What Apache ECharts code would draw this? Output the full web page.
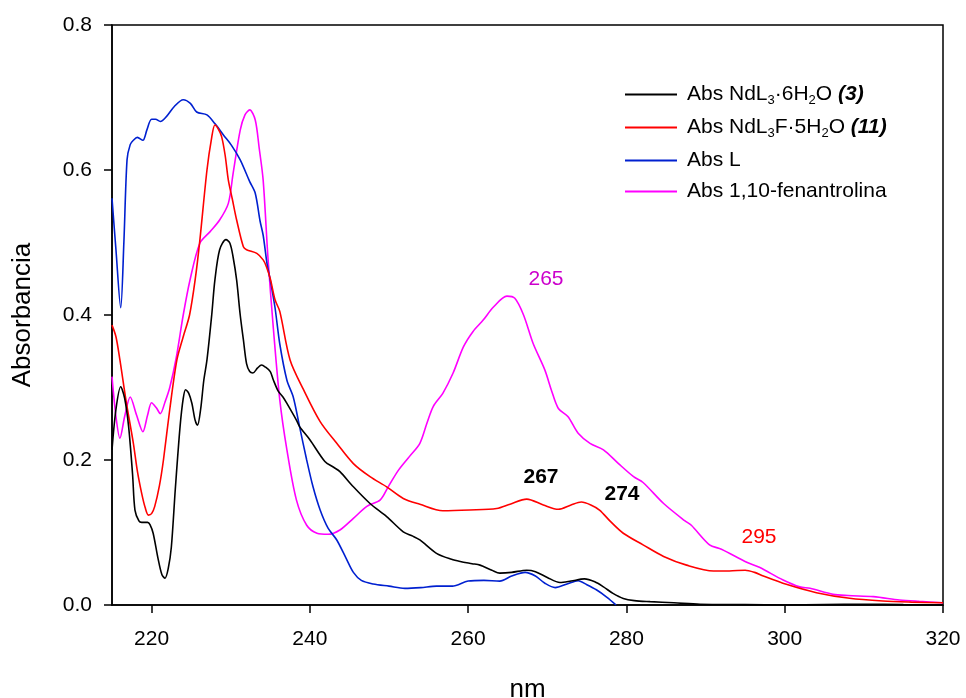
<!DOCTYPE html>
<html>
<head>
<meta charset="utf-8">
<script src="https://cdn.jsdelivr.net/npm/echarts@6/dist/echarts.min.js"></script>
<style>html,body{margin:0;padding:0;background:#fff}#c{width:966px;height:698px}</style>
</head>
<body>
<div id="c"></div>
<script>
// ---- data ----
const xTicks = [220, 240, 260, 280, 300, 320];
const yTicks = [0, 0.2, 0.4, 0.6, 0.8];

const blackNm  = [215.0,215.5,216.1,216.6,217.1,217.6,217.9,218.4,218.75,219.5,219.8,220.2,220.8,221.3,221.7,222.1,222.5,223.0,223.6,224.0,224.3,224.7,225.1,225.5,225.8,226.2,226.6,227.0,227.6,228.0,228.6,229.4,229.9,230.3,230.75,231.2,231.6,232.0,232.4,232.8,233.4,233.9,234.4,235.0,235.4,236.0,236.6,237.1,238.3,238.7,240.0,241.9,243.0,243.8,245.5,247.6,249.7,251.8,253.0,253.9,256.0,257.9,259.0,260.5,261.5,263.0,264.0,265.5,267.4,268.5,270.0,271.6,273.0,274.7,276.0,277.1,278.3,279.6,281.0,283.0,286.0,289.3,295,300,305,310,315,320];
const blackAbs = [0.214,0.27,0.301,0.285,0.246,0.18,0.131,0.116,0.114,0.114,0.111,0.099,0.065,0.042,0.037,0.05,0.080,0.16,0.246,0.285,0.297,0.292,0.278,0.255,0.248,0.27,0.31,0.338,0.40,0.448,0.49,0.504,0.499,0.48,0.448,0.40,0.366,0.333,0.322,0.320,0.327,0.331,0.328,0.322,0.31,0.295,0.287,0.278,0.255,0.246,0.228,0.198,0.19,0.184,0.163,0.140,0.122,0.101,0.095,0.0897,0.0713,0.063,0.060,0.057,0.055,0.048,0.044,0.045,0.048,0.046,0.038,0.031,0.033,0.036,0.032,0.025,0.016,0.009,0.006,0.0046,0.003,0.001,0.0005,0.0,0.0005,0.001,0.0005,0.0];

const redNm  = [215.0,215.5,216.0,216.8,217.7,218.2,218.75,219.2,219.6,220.0,220.4,221.0,221.5,222.3,223.2,224.0,224.8,225.5,226.1,227.0,227.6,228.0,228.4,228.85,229.3,229.7,230.2,230.75,231.6,232.0,233.3,234.1,234.5,235.0,235.6,236.2,237.5,239.2,241.3,243.4,245.5,247.6,249.7,251.8,253.9,256.8,260.2,263.6,265.3,267.4,269.5,271.4,273.0,274.3,275.5,276.6,278.0,279.6,282.1,284.7,287.6,291.0,293.0,295.0,296.2,297.3,300.2,304.0,308.2,312.4,316,320];
const redAbs = [0.386,0.37,0.338,0.28,0.223,0.185,0.154,0.134,0.124,0.126,0.136,0.165,0.20,0.27,0.338,0.37,0.40,0.448,0.503,0.60,0.645,0.662,0.657,0.646,0.62,0.586,0.56,0.531,0.494,0.49,0.485,0.476,0.467,0.45,0.421,0.405,0.338,0.297,0.253,0.223,0.195,0.177,0.163,0.147,0.139,0.130,0.131,0.133,0.139,0.146,0.138,0.132,0.138,0.142,0.138,0.131,0.115,0.099,0.083,0.067,0.055,0.047,0.047,0.048,0.045,0.040,0.0285,0.017,0.0092,0.0055,0.004,0.003];

const blueNm  = [215.0,215.5,216.1,216.5,216.9,217.3,217.7,218.2,218.9,219.4,220.0,220.5,221.1,221.9,222.9,224.0,224.9,225.7,227.0,228.0,229.1,230.1,231.2,232.4,233.1,233.7,234.1,234.6,235.0,235.6,236.2,237.1,237.9,238.7,239.6,240.4,241.3,242.3,243.4,244.6,245.5,246.5,248.0,250.0,252.0,254.0,256.0,258.0,260.0,262.0,264.0,265.5,267.2,268.5,269.7,271.0,272.5,273.9,275.0,276.2,277.5,278.7];
const blueAbs = [0.561,0.49,0.41,0.50,0.614,0.635,0.641,0.645,0.641,0.655,0.67,0.670,0.667,0.674,0.688,0.697,0.692,0.680,0.676,0.664,0.648,0.634,0.614,0.584,0.568,0.53,0.51,0.47,0.448,0.41,0.36,0.310,0.287,0.246,0.2,0.163,0.131,0.106,0.0897,0.064,0.045,0.034,0.029,0.026,0.023,0.024,0.026,0.026,0.033,0.034,0.033,0.040,0.045,0.040,0.030,0.024,0.029,0.0335,0.028,0.021,0.011,0.0];

const phenNm  = [215.0,215.5,216.0,216.6,217.3,218.1,218.9,219.5,220.0,220.6,221.1,221.7,222.3,223.1,224.0,224.85,226.1,227.4,228.6,229.7,230.3,231.2,231.8,232.4,233.1,233.6,234.1,234.7,235.4,236.2,237.1,238.3,239.6,240.9,242.3,243.8,245.5,247.2,248.9,249.9,251.2,252.6,253.9,254.8,255.6,256.8,258.1,259.4,260.6,261.9,263.2,264.9,265.9,267.0,268.2,269.7,270.5,271.4,272.6,273.9,275.4,277.1,279.0,280.9,282.1,284.7,287.4,288.2,290.5,292.0,295.2,296.8,299.8,301.9,303.2,306.1,308,311.2,314.5,317,320];
const phenAbs = [0.315,0.26,0.23,0.26,0.287,0.262,0.239,0.262,0.279,0.272,0.264,0.28,0.30,0.34,0.40,0.448,0.499,0.515,0.531,0.554,0.595,0.655,0.676,0.683,0.669,0.63,0.586,0.48,0.38,0.283,0.214,0.145,0.110,0.099,0.0975,0.1035,0.1195,0.136,0.145,0.163,0.186,0.205,0.223,0.251,0.274,0.292,0.320,0.356,0.377,0.393,0.411,0.426,0.423,0.40,0.361,0.324,0.297,0.271,0.260,0.237,0.223,0.214,0.195,0.177,0.169,0.140,0.116,0.110,0.083,0.077,0.059,0.052,0.0345,0.025,0.023,0.0147,0.013,0.0115,0.007,0.005,0.003];

const seriesNames = ['Abs NdL3·6H2O (3)', 'Abs NdL3F·5H2O (11)', 'Abs L', 'Abs 1,10-fenantrolina'];
const seriesColors = ['#000000', '#ff0000', '#0020d0', '#ff00ff'];
const legendRich = {
  'Abs NdL3·6H2O (3)': '{n|Abs NdL}{s|3}{n|·6H}{s|2}{n|O }{b|(3)}',
  'Abs NdL3F·5H2O (11)': '{n|Abs NdL}{s|3}{n|F·5H}{s|2}{n|O }{b|(11)}',
  'Abs L': '{n|Abs L}',
  'Abs 1,10-fenantrolina': '{n|Abs 1,10-fenantrolina}'
};
const notes = [
  {text: '265', x: 546, y: 279, color: '#cc00cc', bold: false},
  {text: '267', x: 541, y: 477, color: '#000000', bold: true},
  {text: '274', x: 622, y: 494, color: '#000000', bold: true},
  {text: '295', x: 759, y: 537, color: '#ff0000', bold: false}
];

// ---- chart ----
const FONT = '"Liberation Sans", Arial, Helvetica, sans-serif';
const zip = (a, b) => a.map((v, i) => [v, b[i]]);
const allData = [zip(blackNm, blackAbs), zip(redNm, redAbs), zip(blueNm, blueAbs), zip(phenNm, phenAbs)];

const chart = echarts.init(document.getElementById('c'), null, {renderer: 'canvas'});
const option = {
  backgroundColor: '#ffffff',
  animation: false,
  textStyle: {fontFamily: FONT},
  grid: {left: 112, right: 23, top: 25, bottom: 93, show: true, borderColor: '#000', borderWidth: 1.5,
    backgroundColor: 'transparent', containLabel: false, outerBoundsMode: 'none'},
  xAxis: {
    type: 'value', min: 215, max: 320,
    name: 'nm', nameLocation: 'middle', nameGap: 72,
    nameTextStyle: {fontSize: 26, color: '#000', fontFamily: FONT},
    axisLine: {show: true, onZero: false, lineStyle: {color: '#000', width: 1.5}},
    axisTick: {show: true, inside: false, length: 8, customValues: xTicks, lineStyle: {color: '#000', width: 1.5}},
    axisLabel: {show: true, customValues: xTicks, margin: 24, fontSize: 21, color: '#000', fontFamily: FONT},
    splitLine: {show: false}
  },
  yAxis: {
    type: 'value', min: 0, max: 0.8, interval: 0.2,
    name: 'Absorbancia', nameLocation: 'middle', nameGap: 76, nameRotate: 90,
    nameTextStyle: {fontSize: 26, color: '#000', fontFamily: FONT},
    axisLine: {show: true, lineStyle: {color: '#000', width: 1.5}},
    axisTick: {show: true, inside: false, length: 8, lineStyle: {color: '#000', width: 1.5}},
    axisLabel: {show: true, margin: 20, fontSize: 21, color: '#000', fontFamily: FONT,
      formatter: v => v.toFixed(1)},
    splitLine: {show: false}
  },
  legend: {
    show: true, orient: 'vertical', left: 620, top: 79,
    itemWidth: 52, itemHeight: 2, itemGap: 10, icon: 'rect',
    data: seriesNames,
    formatter: name => legendRich[name],
    textStyle: {
      color: '#000', fontFamily: FONT, fontSize: 21, padding: [0, 0, 0, 5],
      rich: {
        n: {fontSize: 21, fontFamily: FONT, color: '#000'},
        s: {fontSize: 13, fontFamily: FONT, color: '#000', padding: [12, 0, 0, 0]},
        b: {fontSize: 21, fontFamily: FONT, color: '#000', fontWeight: 'bold', fontStyle: 'italic'}
      }
    }
  },
  series: allData.map((d, i) => ({
    name: seriesNames[i], type: 'line', data: d,
    smooth: 0.3, showSymbol: false, symbol: 'none',
    lineStyle: {color: seriesColors[i], width: 1.6},
    itemStyle: {color: seriesColors[i]},
    z: 10 - i
  })),
  graphic: notes.map(n => ({
    type: 'text', x: n.x, y: n.y, z: 100,
    style: {text: n.text, fill: n.color, fontSize: 21, fontFamily: FONT,
      fontWeight: n.bold ? 'bold' : 'normal', align: 'center', verticalAlign: 'middle'}
  }))
};
chart.setOption(option);
</script>
</body>
</html>
